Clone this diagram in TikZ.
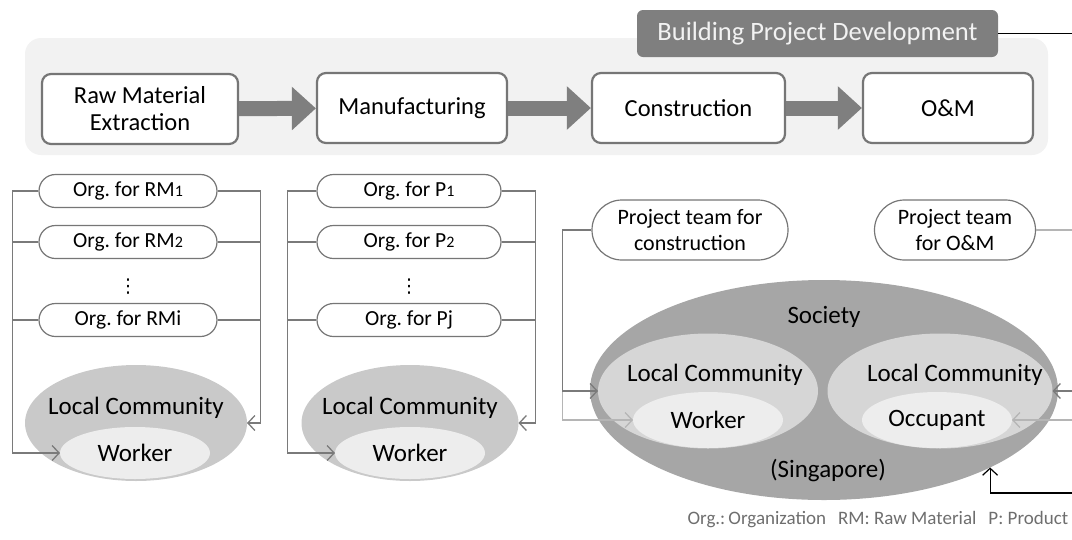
\documentclass[tikz,border=0pt]{standalone}
\usepackage{fontspec}
\setmainfont{Carlito}
\newfontfamily\symfont{DejaVu Sans}
\usetikzlibrary{shapes.geometric,shapes.misc,arrows.meta}
\definecolor{panelgray}{HTML}{F2F2F2}
\definecolor{headgray}{HTML}{7F7F7F}
\definecolor{headtext}{HTML}{F2F2F2}
\definecolor{boxgray}{HTML}{767676}
\definecolor{fatgray}{HTML}{7F7F7F}
\definecolor{linegray}{HTML}{7A7A7A}
\definecolor{lightline}{HTML}{B5B5B5}
\definecolor{socgray}{HTML}{A6A6A6}
\definecolor{commgray}{HTML}{C9C9C9}
\definecolor{commlight}{HTML}{D6D6D6}
\definecolor{innergray}{HTML}{EDEDED}
\definecolor{notegray}{HTML}{6E6E6E}
\newcommand{\lowdigit}[1]{{\fontsize{16}{16}\selectfont #1}}
\frenchspacing

\begin{document}
\begin{tikzpicture}[x=1pt, y=-1pt, >={Straight Barb[length=7pt,width=15pt]},
  stage/.style={draw=boxgray, line width=2.2pt, rounded corners=9pt, fill=white,
    minimum height=70pt, align=center, font=\fontsize{24.5}{27}\selectfont},
  fatarrow/.style={draw=fatgray, line width=15pt, -{Triangle[length=24pt,width=42pt]}},
  pill/.style={rounded rectangle, draw=boxgray, line width=1.2pt, fill=white,
    minimum height=33pt, inner sep=0pt, align=center, font=\fontsize{21.5}{26}\selectfont},
  blob/.style={ellipse, inner sep=0pt, outer sep=0pt, font=\fontsize{25}{28}\selectfont},
  lbl/.style={font=\fontsize{25}{28}\selectfont},
  dotsty/.style={inner sep=0pt, font=\symfont\fontsize{19}{20}\selectfont},
  conn/.style={draw=linegray, line width=1.3pt},
  faint/.style={draw=lightline, line width=1.3pt}]
\useasboundingbox (0,0) rectangle (1072,539);
\clip (0,0) rectangle (1072,539);

% life cycle stages
\node[fill=panelgray, rounded corners=16pt, minimum width=1023pt, minimum height=117pt] (panel) at (536.5,96.5) {};
\node[fill=headgray, rounded corners=6pt, minimum width=361pt, minimum height=47pt, text=headtext,
  font=\fontsize{26.5}{28}\selectfont] (bpd) at (817.5,33.5) {Building Project Development};
\node[stage, minimum width=196pt] (rme) at (140,109) {Raw Material\\Extraction};
\node[stage, minimum width=190pt] (mfg) at (412,108) {Manufacturing};
\node[stage, minimum width=193pt] (cns) at (688.5,108) {Construction};
\node[stage, minimum width=170pt] (onm) at (948,108) {O\&M};
\draw[fatarrow] (rme) -- (mfg);
\draw[fatarrow] (mfg) -- (cns);
\draw[fatarrow] (cns) -- (onm);
\coordinate (hdout) at (1080,33.5);
\draw (bpd.east) -- (hdout);

% raw material extraction
\node[pill, minimum width=178pt] (rm1) at (128,191) {Org. for RM\lowdigit{1}};
\node[pill, minimum width=178pt] (rm2) at (128,242) {Org. for RM\lowdigit{2}};
\node[dotsty] (dots1) at (128,287) {⋮};
\node[pill, minimum width=178pt] (rmi) at (128,320) {Org. for RMi};
\node[blob, fill=commgray, minimum width=222pt, minimum height=116pt] (lc1) at (136,423) {};
\node[blob, fill=innergray, minimum width=150pt, minimum height=52pt] (wk1) at (135,453) {Worker};
\node[lbl] (lc1t) at (136,408) {Local Community};
\draw[conn, ->] (rm1.west) -- ++(-26,0) |- (wk1.west);
\draw[conn] (rm2.west) -- ++(-26,0);
\draw[conn] (rmi.west) -- ++(-26,0);
\draw[conn, ->] (rm1.east) -- ++(43,0) |- (lc1.east);
\draw[conn] (rm2.east) -- ++(43,0);
\draw[conn] (rmi.east) -- ++(43,0);

% manufacturing
\node[pill, minimum width=184pt] (p1) at (409,191) {Org. for P\lowdigit{1}};
\node[pill, minimum width=184pt] (p2) at (409,242) {Org. for P\lowdigit{2}};
\node[dotsty] (dots2) at (409,287) {⋮};
\node[pill, minimum width=184pt] (pj) at (409,320) {Org. for Pj};
\node[blob, fill=commgray, minimum width=217pt, minimum height=116pt] (lc2) at (410,423) {};
\node[blob, fill=innergray, minimum width=150pt, minimum height=52pt] (wk2) at (410,453) {Worker};
\node[lbl] (lc2t) at (410,408) {Local Community};
\draw[conn, ->] (p1.west) -- ++(-29,0) |- (wk2.west);
\draw[conn] (p2.west) -- ++(-29,0);
\draw[conn] (pj.west) -- ++(-29,0);
\draw[conn, ->] (p1.east) -- ++(34,0) |- (lc2.east);
\draw[conn] (p2.east) -- ++(34,0);
\draw[conn] (pj.east) -- ++(34,0);

% construction and O&M
\node[pill, minimum width=196pt, minimum height=60pt, font=\fontsize{22}{26}\selectfont] (ptc) at (690,230) {Project team for\\construction};
\node[pill, minimum width=161pt, minimum height=60pt, font=\fontsize{22}{26}\selectfont] (pto) at (955,230) {Project team\\for O\&M};
\node[blob, fill=socgray, minimum width=468pt, minimum height=220pt] (soc) at (824,390) {};
\node[lbl] (soct) at (824,317) {Society};
\node[blob, fill=commlight, minimum width=220pt, minimum height=115pt] (lc3) at (708,391) {};
\node[blob, fill=commlight, minimum width=225pt, minimum height=115pt] (lc4) at (940,391) {};
\node[blob, fill=innergray, minimum width=150pt, minimum height=56pt] (wk3) at (708,420) {Worker};
\node[blob, fill=innergray, minimum width=150pt, minimum height=56pt] (occ) at (937,420) {Occupant};
\node[lbl] (lc3t) at (715,375) {Local Community};
\node[lbl] (lc4t) at (955,375) {Local Community};
\node[lbl] (sgp) at (828,470) {(Singapore)};
\draw[faint, ->] (ptc.west) -- ++(-29,0) |- (wk3.west);
\draw[conn, ->] (ptc.west) -- ++(-29,0) |- (lc3.west);
\coordinate (ptout) at (1080,230);
\coordinate (lcin) at (1080,391);
\coordinate (occin) at (1080,420);
\coordinate (socin) at (1080,493);
\draw[faint] (pto.east) -- (ptout);
\draw[conn, ->] (lcin) -- (lc4.east);
\draw[faint, ->] (occin) -- (occ.east);
\draw[line width=1.2pt, ->] (socin) -| (soc.-25);

\node[anchor=west, text=notegray, font=\fontsize{19}{21}\selectfont] (note) at (684,520)
  {Org.:\,Organization\hspace{12pt}RM: Raw Material\hspace{12pt}P: Product};
\end{tikzpicture}
\end{document}
